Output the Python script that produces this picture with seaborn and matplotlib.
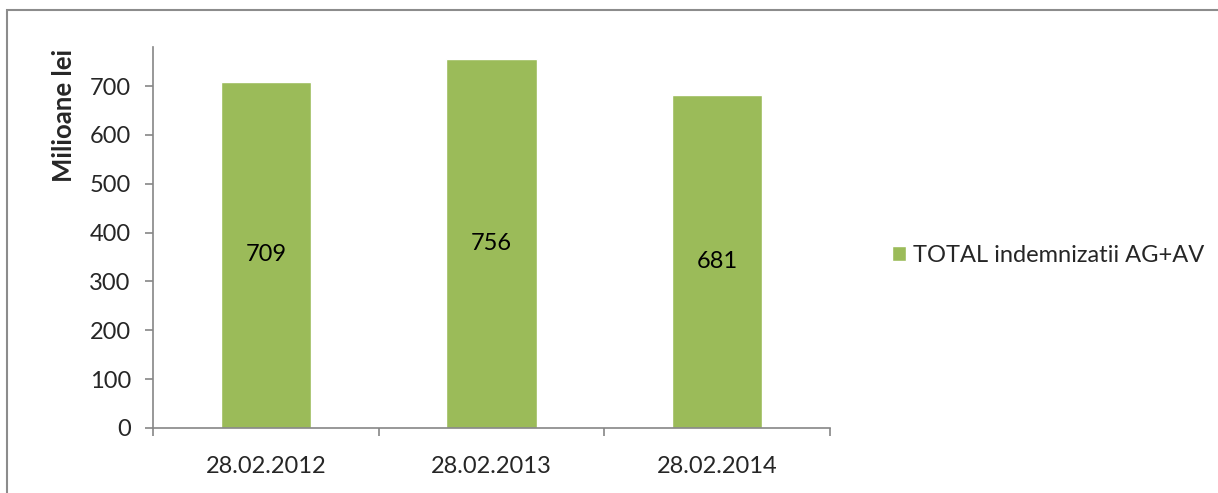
import pandas as pd
import seaborn as sns
import matplotlib.pyplot as plt
from matplotlib.patches import Rectangle

# values (milioane lei)
dates = ["28.02.2012", "28.02.2013", "28.02.2014"]
values = [709, 756, 681]
series_name = "TOTAL indemnizatii AG+AV"

df = pd.DataFrame({"data": dates, "valoare": values, "serie": series_name})

sns.set_style("white")
plt.rcParams['font.family'] = ['Lato', 'DejaVu Sans']

green = "#9BBB59"
gray = "#868686"
fs = 17

fig = plt.figure(figsize=(12.18, 4.93), dpi=100)
ax = fig.add_axes([153 / 1218, 1 - 428 / 493, 677 / 1218, 381 / 493])

sns.barplot(data=df, x="data", y="valoare", hue="serie", palette=[green],
            width=0.4, ax=ax, saturation=1, legend=True)

ax.set_xlim(-0.5, 2.5)
ax.set_ylim(0, 780)
ax.set_yticks(range(0, 800, 100))

# labels in the middle of each bar
for i, v in enumerate(values):
    ax.text(i, v / 2, str(v), ha="center", va="center", fontsize=fs, color="black")

ax.set_xlabel("")
ax.set_ylabel("Milioane lei", fontsize=18.5, fontweight="bold")
ax.yaxis.set_label_coords(-0.113, 0.82)

for side in ["top", "right"]:
    ax.spines[side].set_visible(False)
for side in ["left", "bottom"]:
    ax.spines[side].set_color(gray)
    ax.spines[side].set_linewidth(1.2)

# x ticks sit on the category boundaries
ax.set_xticks([-0.5, 0.5, 1.5, 2.5], minor=False)
ax.set_xticklabels([])
ax.set_xticks([0, 1, 2], minor=True)
ax.set_xticklabels(dates, minor=True)
ax.tick_params(axis="x", which="major", direction="out", length=6, color=gray, width=1.2, bottom=True)
ax.tick_params(axis="x", which="minor", length=0, labelsize=fs, pad=20)
ax.tick_params(axis="y", direction="out", length=6, color=gray, width=1.2, left=True, labelsize=fs, pad=10)

leg = ax.legend(loc="center left", bbox_to_anchor=(880 / 1218, 1 - 255 / 493),
                bbox_transform=fig.transFigure, frameon=False, fontsize=fs,
                handlelength=0.6, handleheight=0.6, handletextpad=0.3, borderpad=0)

# outer chart border (top and left visible in the source)
fig.add_artist(Rectangle((7 / 1218, -0.2), 1.5, 1.2 - 10 / 493, transform=fig.transFigure,
                         fill=False, edgecolor="#8c8c8c", linewidth=1.5))

fig.savefig("out.png", dpi=100)
